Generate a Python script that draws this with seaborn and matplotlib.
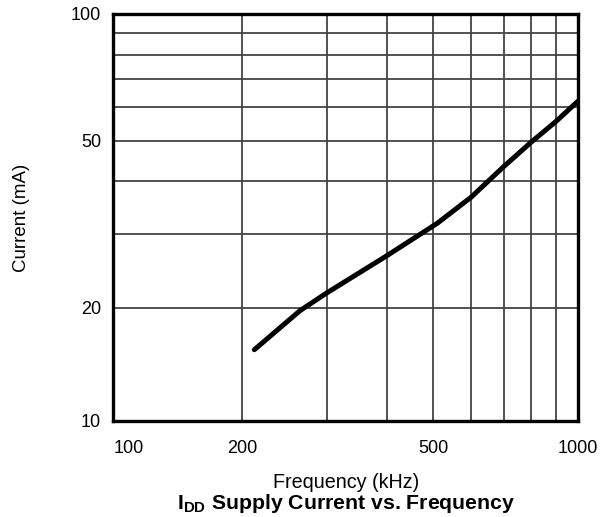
import seaborn as sns
import matplotlib.pyplot as plt
import pandas as pd

# values
freq_khz = [212, 264, 300, 400, 510, 600, 700, 800, 900, 1000]
current_ma = [15.9, 19.7, 21.7, 26.6, 31.8, 36.7, 43.3, 49.6, 55.5, 62.0]

x_ticks = [200, 500, 1000]
y_ticks = [20, 50, 100]
x_minor = [300, 400, 600, 700, 800, 900]
y_minor = [30, 40, 60, 70, 80, 90]

sns.set_style("white")
plt.rcParams['font.family'] = ['Liberation Sans', 'DejaVu Sans']
plt.rcParams['mathtext.fontset'] = 'custom'
plt.rcParams['mathtext.rm'] = 'Liberation Sans:bold'
for key in ['text.color', 'axes.labelcolor', 'xtick.color', 'ytick.color']:
    plt.rcParams[key] = 'black'

df = pd.DataFrame({'freq': freq_khz, 'current': current_ma})

fig = plt.figure(figsize=(6.02, 5.17), dpi=100)
ax = fig.add_axes([0.1885, 0.1857, 0.7715, 0.7873])

sns.lineplot(data=df, x='freq', y='current', ax=ax, color='black',
             linewidth=3.6, solid_capstyle='round', solid_joinstyle='round')

ax.set_xscale('log')
ax.set_yscale('log')
# the printed grid starts a little above 100 kHz / 10 mA
xmin, ymin = 107.9, 10.76
ax.set_xlim(xmin, 1000)
ax.set_ylim(ymin, 100)

ax.set_xticks([xmin] + x_ticks, labels=['100'] + [str(v) for v in x_ticks])
ax.set_yticks([ymin] + y_ticks, labels=['10'] + [str(v) for v in y_ticks])
ax.set_xticks(x_minor, minor=True)
ax.set_yticks(y_minor, minor=True)
ax.xaxis.set_minor_formatter(plt.NullFormatter())
ax.yaxis.set_minor_formatter(plt.NullFormatter())
ax.tick_params(which='both', length=0)
ax.tick_params(axis='x', pad=14, labelsize=13)
ax.tick_params(axis='y', pad=9, labelsize=13)
ax.get_xticklabels()[0].set_ha('left')

ax.grid(True, which='both', color='#444444', linewidth=1.3)
for s in ax.spines.values():
    s.set_color('black')
    s.set_linewidth(2.4)

ax.set_xlabel('Frequency (kHz)', fontsize=14.2, labelpad=11)
ax.set_ylabel('Current (mA)', fontsize=13.5, labelpad=29)
fig.text(0.575, 0.016, r'$\mathrm{I_{DD}}$ Supply Current vs. Frequency',
         ha='center', va='baseline', fontsize=15.3, fontweight='bold')

fig.savefig('out.png', dpi=100)
